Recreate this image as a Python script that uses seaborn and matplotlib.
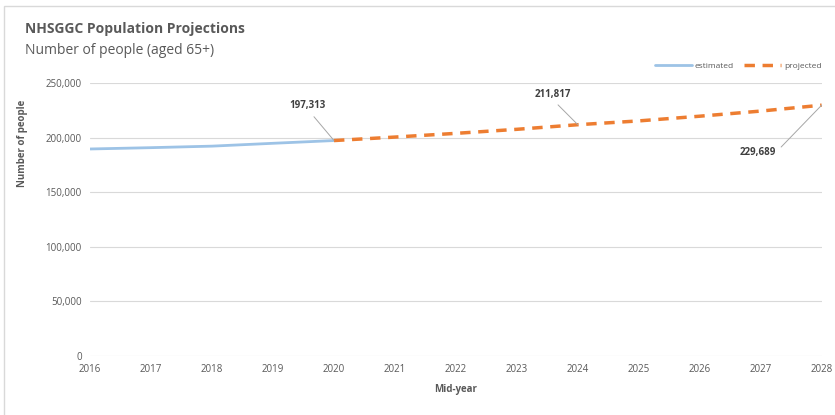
"""
plot.py
-------
NHSGGC population projections (aged 65+), estimated vs projected.
"""

import pandas as pd
import matplotlib.pyplot as plt
import matplotlib.ticker as mticker
from matplotlib.patches import Rectangle
import seaborn as sns

# ── Data ──────────────────────────────────────────────────────────────────────
EST_YEARS = [2016, 2017, 2018, 2019, 2020]
EST_VALUES = [189600, 190800, 192200, 194800, 197313]

PROJ_YEARS = [2020, 2021, 2022, 2023, 2024, 2025, 2026, 2027, 2028]
PROJ_VALUES = [197313, 200500, 203900, 207600, 211817, 215300, 219600, 224300, 229689]

LABELLED = {2020: 197313, 2024: 211817, 2028: 229689}

# ── Style ─────────────────────────────────────────────────────────────────────
sns.set_theme(style="white")
plt.rcParams["font.family"] = ["Open Sans", "DejaVu Sans"]
BLUE = "#9dc3e6"
ORANGE = "#ed7d31"
GREY = "#595959"

est = pd.DataFrame({"year": EST_YEARS, "people": EST_VALUES})
proj = pd.DataFrame({"year": PROJ_YEARS, "people": PROJ_VALUES})

fig = plt.figure(figsize=(8.35, 4.15), dpi=100)
ax = fig.add_axes([0.108, 0.142, 0.876, 0.658])

sns.lineplot(data=est, x="year", y="people", ax=ax, color=BLUE, lw=2,
             label="estimated")
sns.lineplot(data=proj, x="year", y="people", ax=ax, color=ORANGE, lw=2.5,
             linestyle=(0, (3, 2.2)), label="projected")

ax.set_xlim(2016, 2028)
ax.set_ylim(0, 250000)
ax.set_xticks(range(2016, 2029))
ax.set_yticks(range(0, 250001, 50000))
ax.yaxis.set_major_formatter(mticker.FuncFormatter(lambda v, _: f"{int(v):,}"))
ax.tick_params(axis="both", labelsize=7, colors=GREY, length=0, pad=6)
ax.grid(axis="y", color="#d9d9d9", lw=0.8)
ax.grid(axis="x", visible=False)
for s in ax.spines.values():
    s.set_visible(False)
ax.set_xlabel("Mid-year", fontsize=7, color=GREY, fontweight="bold", labelpad=6)
ax.set_ylabel("Number of people", fontsize=7, color=GREY, fontweight="bold",
              labelpad=8)
ax.yaxis.set_label_coords(-0.085, 0.78)

# data labels with leader lines: (dx, dy in points, where the leader leaves the text)
offsets = {2020: (-19, 25, (0.55, 0.0)),
           2024: (-18, 22, (0.5, 0.0)),
           2028: (-46, -34, (1.0, 0.5))}
for yr, val in LABELLED.items():
    dx, dy, rel = offsets[yr]
    ax.annotate(f"{val:,}", xy=(yr, val), xytext=(dx, dy),
                textcoords="offset points", fontsize=7, fontweight="bold",
                color="#404040", ha="center", va="center",
                arrowprops=dict(arrowstyle="-", color="#a6a6a6", lw=0.7,
                                shrinkA=2, shrinkB=0, relpos=rel))

leg = ax.legend(loc="lower right", bbox_to_anchor=(1.01, 1.02), ncol=2,
                frameon=False, fontsize=6, handlelength=4.5, columnspacing=1.2,
                handletextpad=0.3)
for t in leg.get_texts():
    t.set_color(GREY)

fig.text(0.03, 0.92, "NHSGGC Population Projections", fontsize=10,
         fontweight="bold", color=GREY)
fig.text(0.03, 0.87, "Number of people (aged 65+)", fontsize=10, color=GREY)

fig.patches.append(Rectangle((0.005, -0.1), 1.2, 1.085, transform=fig.transFigure,
                             fill=False, edgecolor="#d9d9d9", lw=1))

fig.savefig("out.png", dpi=100)
